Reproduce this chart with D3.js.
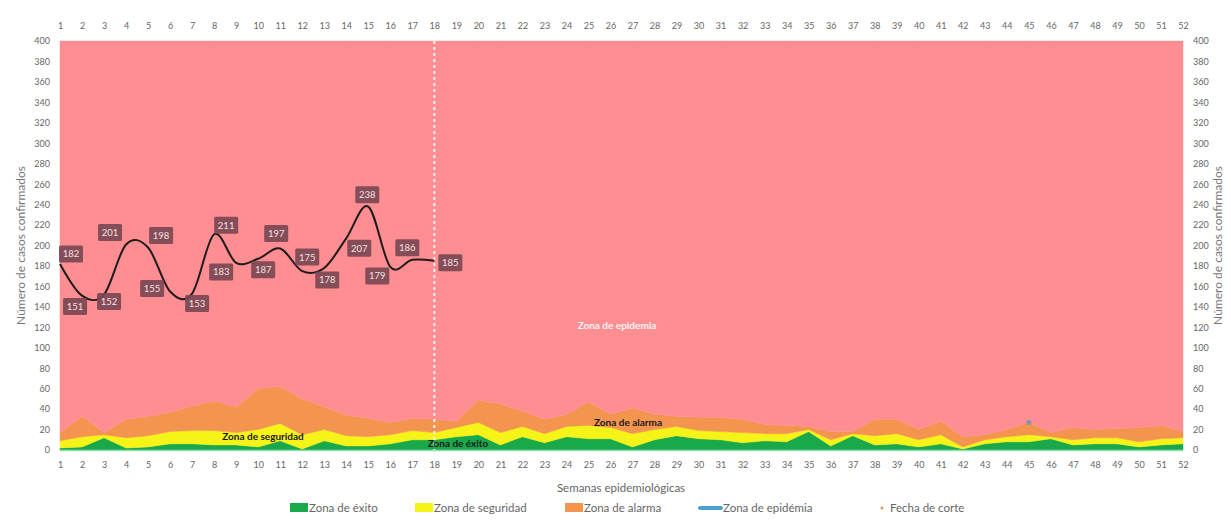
<!DOCTYPE html>
<html>
<head>
<meta charset="utf-8">
<script src="https://cdn.jsdelivr.net/npm/d3@7"></script>
<style>
  html, body { margin: 0; padding: 0; background: #ffffff; }
  svg { display: block; }
  text { font-family: Lato, "Open Sans", sans-serif; }
</style>
</head>
<body>
<svg id="chart" width="1231" height="526"></svg>
<script>
// ---------- DATA ----------
const weeks = d3.range(1, 53);
const yTicks = d3.range(0, 401, 20);

// upper boundary of each zone (cumulative)
const exito = [2,3,12,2,3,6,6,5,5,3,9,1,9,4,4,6,10,10,13,15,5,13,7,13,11,11,3,10,14,11,10,7,9,8,18,4,14,5,6,3,6,1,6,8,8,11,5,6,6,3,5,6];
const seguridad = [9,13,15,12,14,18,19,19,17,20,26,15,20,14,13,15,19,17,22,27,17,23,16,23,24,22,16,20,23,19,18,17,16,16,20,10,16,14,16,10,15,3,10,13,15,13,10,12,12,8,11,12];
const alarma = [17,33,17,30,33,37,43,48,42,60,62,50,42,34,31,27,31,30,28,49,45,38,30,35,47,35,41,35,33,32,32,30,25,24,23,18,18,30,30,20,28,13,15,20,27,17,22,20,21,22,24,18];
const epidemia = weeks.map(() => 400);

const casosWeeks = d3.range(1, 19);
const casos = [182,151,152,201,198,155,153,211,183,187,197,175,178,207,238,179,186,185];

const corteWeek = 18;
const markerPoint = [{ week: 45, value: 27 }];

const legendItems = ["Zona de éxito", "Zona de seguridad", "Zona de alarma", "Zona de epidémia", "Fecha de corte"];

// ---------- STYLE / LAYOUT ----------
const colors = {
  exito: "#19a84a",
  seguridad: "#f6f318",
  alarma: "#f3954f",
  epidemia: "#fe8e92",
  epiLegend: "#4aa0cf",
  corte: "#f3954f"
};
// label offsets (position only) relative to each point
const labelOffsets = [[11,-10],[-7,11],[5,7],[-16,-12],[13,-12],[-18,-3],[5,10],[12,-9],[-15,9],[5,11],[-4,-15],[5,-14],[3,12],[13,10],[-1,-12],[-13,9],[-5,-12],[16,2]];

const svg = d3.select("#chart");
const x = d3.scaleLinear().domain([1, 52]).range([60, 1183]);
const y = d3.scaleLinear().domain([0, 400]).range([450, 41]);

// ---------- ZONES ----------
const layers = [
  { name: "exito", lower: weeks.map(() => 0), upper: exito },
  { name: "seguridad", lower: exito, upper: seguridad },
  { name: "alarma", lower: seguridad, upper: alarma },
  { name: "epidemia", lower: alarma, upper: epidemia }
];
const area = d3.area()
  .x((d, i) => x(weeks[i]))
  .y0(d => y(d[0]))
  .y1(d => y(d[1]));

layers.forEach(L => {
  const pts = weeks.map((w, i) => [L.lower[i], L.upper[i]]);
  svg.append("path")
    .attr("d", area(pts))
    .attr("fill", colors[L.name])
    .attr("stroke", colors[L.name])
    .attr("stroke-width", 0.5);
});

// base line at zero
svg.append("line")
  .attr("x1", x(1)).attr("x2", x(52))
  .attr("y1", y(0) + 0.5).attr("y2", y(0) + 0.5)
  .attr("stroke", "#8fe2b4").attr("stroke-width", 1.5);

// cut-off dashed line
svg.append("line")
  .attr("x1", x(corteWeek)).attr("x2", x(corteWeek))
  .attr("y1", y(400)).attr("y2", y(0))
  .attr("stroke", "#ffffff").attr("stroke-width", 2)
  .attr("stroke-dasharray", "3,3").attr("opacity", 0.9);

// small marker
svg.selectAll("circle.mk").data(markerPoint).enter().append("circle")
  .attr("class", "mk")
  .attr("cx", d => x(d.week)).attr("cy", d => y(d.value))
  .attr("r", 2.5).attr("fill", "#7f98a8");

// ---------- AXES ----------
function styleAxis(g) {
  g.select(".domain").remove();
  g.selectAll("line").remove();
  g.selectAll("text")
    .attr("fill", "#666")
    .style("font-family", "Lato, sans-serif")
    .style("font-size", "9px");
}
svg.append("g")
  .attr("transform", `translate(0,${y(0) + 8})`)
  .call(d3.axisBottom(x).tickValues(weeks).tickFormat(d3.format("d")).tickSize(0).tickPadding(4))
  .call(styleAxis);
svg.append("g")
  .attr("transform", `translate(0,${y(400) - 8})`)
  .call(d3.axisTop(x).tickValues(weeks).tickFormat(d3.format("d")).tickSize(0).tickPadding(4))
  .call(styleAxis);
svg.append("g")
  .attr("transform", `translate(50,0)`)
  .call(d3.axisLeft(y).tickValues(yTicks).tickSize(0).tickPadding(0))
  .call(styleAxis);
svg.append("g")
  .attr("transform", `translate(1193,0)`)
  .call(d3.axisRight(y).tickValues(yTicks).tickSize(0).tickPadding(0))
  .call(styleAxis);

// axis titles
svg.append("text")
  .attr("transform", `translate(25,${y(200)}) rotate(-90)`)
  .attr("text-anchor", "middle")
  .attr("fill", "#777").style("font-size", "12px")
  .text("Número de casos confirmados");
svg.append("text")
  .attr("transform", `translate(1222,${y(200)}) rotate(-90)`)
  .attr("text-anchor", "middle")
  .attr("fill", "#777").style("font-size", "12px")
  .text("Número de casos confirmados");
svg.append("text")
  .attr("x", 621).attr("y", 492)
  .attr("text-anchor", "middle")
  .attr("fill", "#666").style("font-size", "11.5px")
  .text("Semanas epidemiológicas");

// ---------- ZONE LABELS ----------
const zoneLabels = [
  { t: "Zona de epidemia", x: 617, y: 329, c: "#fff5f5" },
  { t: "Zona de alarma", x: 628, y: 426, c: "#1a1a1a" },
  { t: "Zona de seguridad", x: 263, y: 440, c: "#1a1a1a" },
  { t: "Zona de éxito", x: 458, y: 447, c: "#1a1a1a" }
];
zoneLabels.forEach(z => {
  svg.append("text")
    .attr("x", z.x).attr("y", z.y)
    .attr("text-anchor", "middle")
    .attr("fill", z.c)
    .style("font-size", "10px").style("font-weight", "bold")
    .text(z.t);
});

// ---------- CASES LINE ----------
const line = d3.line()
  .x((d, i) => x(casosWeeks[i]))
  .y(d => y(d))
  .curve(d3.curveCatmullRom.alpha(0));
svg.append("path")
  .attr("d", line(casos))
  .attr("fill", "none")
  .attr("stroke", "#1f1a1b")
  .attr("stroke-width", 2);

// data labels
const lbl = svg.append("g");
casos.forEach((v, i) => {
  const cx = x(casosWeeks[i]) + labelOffsets[i][0];
  const cy = y(v) + labelOffsets[i][1];
  lbl.append("rect")
    .attr("x", cx - 12).attr("y", cy - 8.5)
    .attr("width", 24).attr("height", 17)
    .attr("rx", 1.5)
    .attr("fill", "#7b4853").attr("opacity", 0.92);
  lbl.append("text")
    .attr("x", cx).attr("y", cy + 3.5)
    .attr("text-anchor", "middle")
    .attr("fill", "#f3e1e3")
    .style("font-size", "9.5px")
    .text(v);
});

// ---------- LEGEND ----------
const lg = svg.append("g").attr("transform", "translate(0,508)");
const legendDefs = [
  { x: 290, type: "rect", c: colors.exito },
  { x: 415, type: "rect", c: colors.seguridad },
  { x: 565, type: "rect", c: colors.alarma },
  { x: 698, type: "line", c: colors.epiLegend },
  { x: 878, type: "dot", c: colors.corte }
];
legendItems.forEach((t, i) => {
  const d = legendDefs[i];
  if (d.type === "rect") {
    lg.append("rect").attr("x", d.x).attr("y", -5).attr("width", 18).attr("height", 9).attr("fill", d.c);
  } else if (d.type === "line") {
    lg.append("rect").attr("x", d.x).attr("y", -2).attr("width", 25).attr("height", 4).attr("rx", 2).attr("fill", d.c);
  } else {
    lg.append("circle").attr("cx", d.x + 4).attr("cy", 0).attr("r", 1.5).attr("fill", d.c);
  }
  lg.append("text")
    .attr("x", d.type === "dot" ? d.x + 12 : d.x + (d.type === "line" ? 25 : 19))
    .attr("y", 4)
    .attr("fill", "#666").style("font-size", "11.5px")
    .text(t);
});
</script>
</body>
</html>
